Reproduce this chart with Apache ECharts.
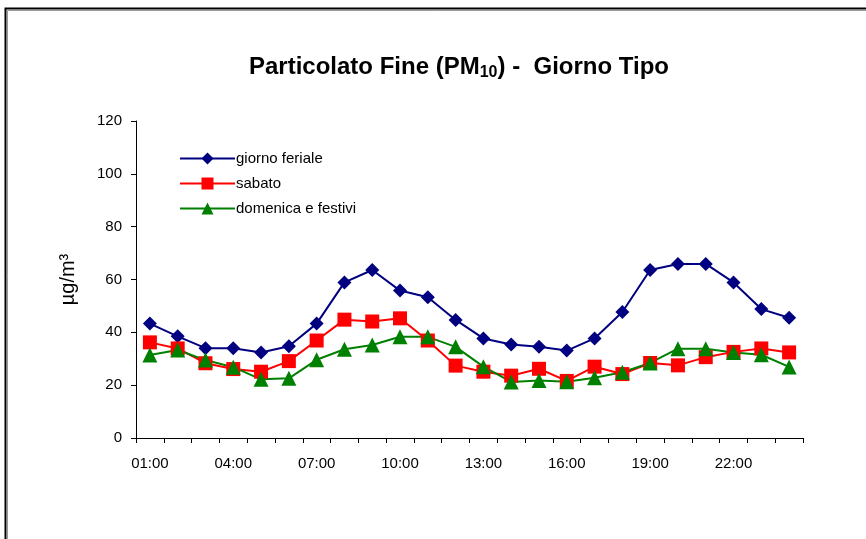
<!DOCTYPE html>
<html>
<head>
<meta charset="utf-8">
<script src="https://cdn.jsdelivr.net/npm/echarts@6/dist/echarts.min.js"></script>
<style>html,body{margin:0;padding:0;background:#fff}#c{width:866px;height:539px}</style>
</head>
<body>
<div id="c"></div>
<script>
const categories = ['01:00','02:00','03:00','04:00','05:00','06:00','07:00','08:00','09:00','10:00','11:00','12:00','13:00','14:00','15:00','16:00','17:00','18:00','19:00','20:00','21:00','22:00','23:00','24:00'];
const giornoFeriale = [43.3, 38.5, 34, 34, 32.4, 34.7, 43.3, 58.9, 63.6, 55.8, 53.3, 44.7, 37.7, 35.4, 34.5, 33.1, 37.7, 47.7, 63.6, 65.9, 65.9, 58.9, 48.8, 45.5];
const sabato = [36.2, 33.9, 28.3, 26.1, 25.1, 29.1, 36.9, 44.8, 44.1, 45.3, 36.9, 27.4, 25.1, 23.6, 26.2, 21.6, 27.0, 24.2, 28.4, 27.5, 30.6, 32.6, 33.9, 32.4];
const domenica = [31.4, 33.3, 29.5, 26.8, 22.2, 22.6, 29.6, 33.6, 35.2, 38.3, 38.3, 34.5, 27.0, 21.2, 21.8, 21.3, 22.8, 24.9, 28.4, 33.8, 33.8, 32.4, 31.5, 26.9];
const yTicks = {min: 0, max: 120, interval: 20};

const font = '"Liberation Sans", Arial, sans-serif';
const chart = echarts.init(document.getElementById('c'), null, {renderer: 'canvas'});
chart.setOption({
  animation: false,
  backgroundColor: '#fff',
  textStyle: {fontFamily: font},
  graphic: [{
    type: 'rect', shape: {x: 5.5, y: 8.5, width: 900, height: 600},
    style: {fill: 'none', stroke: '#000', lineWidth: 2}, silent: true
  }, {
    type: 'rect', shape: {x: 7.5, y: 10.5, width: 900, height: 600},
    style: {fill: 'none', stroke: '#999', lineWidth: 1}, silent: true
  }],
  title: {
    text: '{a|Particolato Fine (PM}{s|10}{a|) -  Giorno Tipo}',
    left: 454, top: 49, textAlign: 'center',
    textStyle: {
      rich: {
        a: {fontSize: 24, fontWeight: 'bold', color: '#000', fontFamily: font},
        s: {fontSize: 16, fontWeight: 'bold', color: '#000', fontFamily: font, padding: [11, 0, 0, 0]}
      }
    }
  },
  legend: {
    orient: 'vertical', left: 174, top: 146,
    itemWidth: 55, itemHeight: 15, itemGap: 10,
    textStyle: {fontSize: 15, color: '#000', fontFamily: font, padding: [0, 0, 0, -4]},
    data: ['giorno feriale', 'sabato', 'domenica e festivi']
  },
  grid: {left: 136, top: 121, right: 63, bottom: 101, containLabel: false},
  xAxis: {
    type: 'category', data: categories, boundaryGap: true,
    axisLine: {lineStyle: {color: '#000', width: 1}},
    axisTick: {show: true, interval: 0, length: 5, lineStyle: {color: '#000'}},
    axisLabel: {interval: 2, color: '#000', fontSize: 15, margin: 18, fontFamily: font},
    splitLine: {show: false}
  },
  yAxis: {
    type: 'value', min: yTicks.min, max: yTicks.max, interval: yTicks.interval,
    name: 'µg/m³', nameLocation: 'middle', nameGap: 58, nameRotate: 90,
    nameTextStyle: {fontSize: 20, color: '#000', fontFamily: font},
    axisLine: {show: true, lineStyle: {color: '#000', width: 1}},
    axisTick: {show: true, length: 5, lineStyle: {color: '#000'}},
    axisLabel: {color: '#000', fontSize: 15, margin: 14, fontFamily: font},
    splitLine: {show: false}
  },
  series: [
    {name: 'giorno feriale', type: 'line', data: giornoFeriale, symbol: 'diamond', symbolSize: 14,
     itemStyle: {color: '#000080'}, lineStyle: {color: '#000080', width: 2}},
    {name: 'sabato', type: 'line', data: sabato, symbol: 'rect', symbolSize: 14,
     itemStyle: {color: '#ff0000'}, lineStyle: {color: '#ff0000', width: 2}},
    {name: 'domenica e festivi', type: 'line', data: domenica, symbol: 'triangle', symbolSize: 15,
     itemStyle: {color: '#008000'}, lineStyle: {color: '#008000', width: 2}}
  ]
});
</script>
</body>
</html>
